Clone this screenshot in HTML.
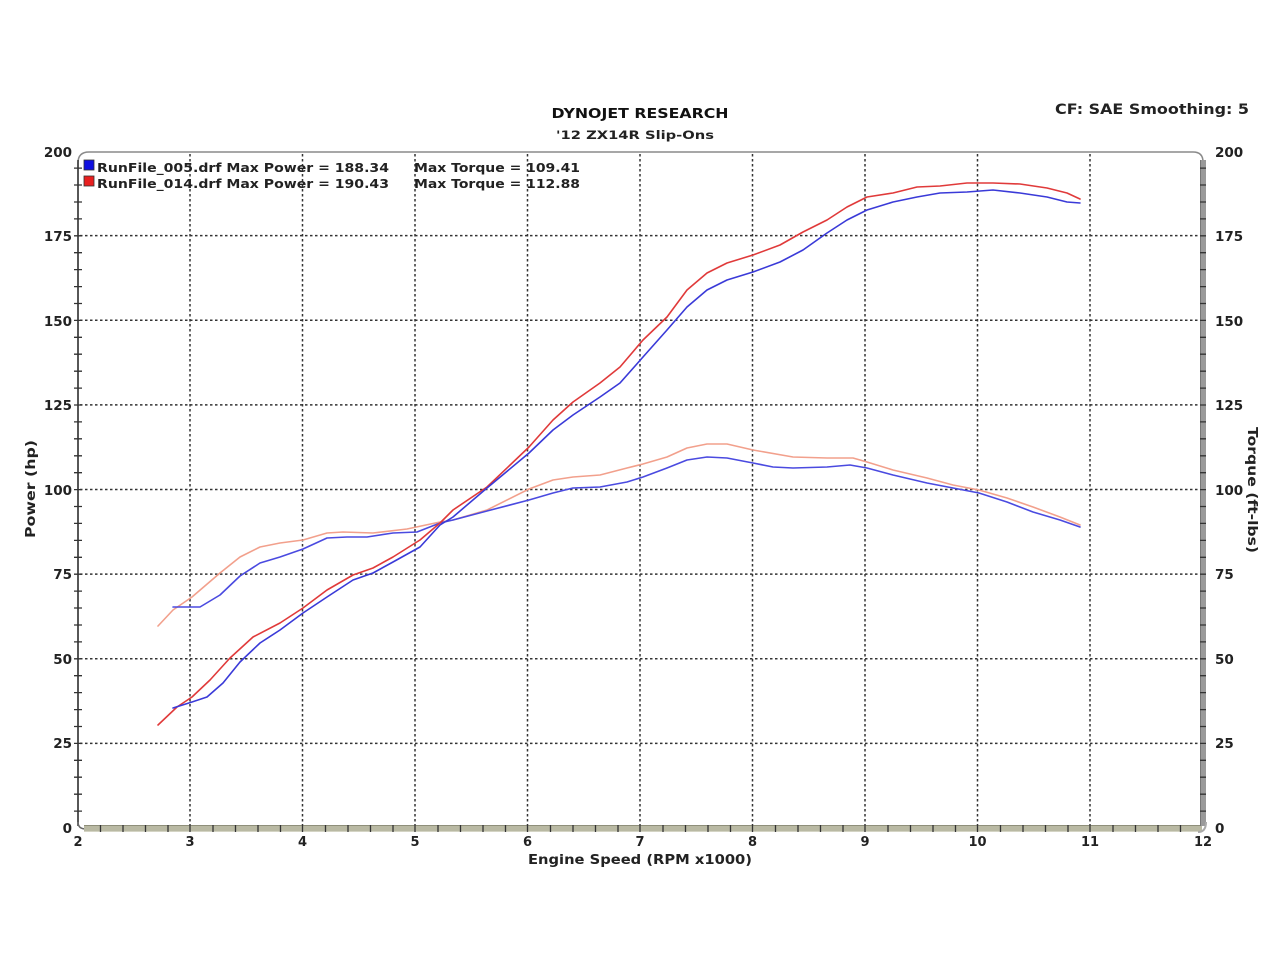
<!DOCTYPE html>
<html><head><meta charset="utf-8"><style>
html,body{margin:0;padding:0;background:#fff;}
svg{display:block;}
text{font-family:"DejaVu Sans","Liberation Sans",sans-serif;font-weight:bold;fill:#222;}
</style></head><body>
<svg width="1280" height="961" viewBox="0 0 1280 961" xmlns="http://www.w3.org/2000/svg">
<rect width="1280" height="961" fill="#fff"/>
<!-- titles -->
<text x="640" y="118" font-size="13" text-anchor="middle" textLength="177" lengthAdjust="spacingAndGlyphs" style="fill:#111">DYNOJET RESEARCH</text>
<text x="635" y="139" font-size="11.5" text-anchor="middle" textLength="158" lengthAdjust="spacingAndGlyphs">'12 ZX14R Slip-Ons</text>
<text x="1055" y="114" font-size="14" textLength="194" lengthAdjust="spacingAndGlyphs">CF: SAE  Smoothing: 5</text>

<!-- grid -->
<g stroke="#333" stroke-width="1.5" stroke-dasharray="2.5,2.5" fill="none">
<line x1="190" y1="154" x2="190" y2="825"/>
<line x1="302.5" y1="154" x2="302.5" y2="825"/>
<line x1="415" y1="154" x2="415" y2="825"/>
<line x1="527.5" y1="154" x2="527.5" y2="825"/>
<line x1="640" y1="154" x2="640" y2="825"/>
<line x1="752.5" y1="154" x2="752.5" y2="825"/>
<line x1="865" y1="154" x2="865" y2="825"/>
<line x1="977.5" y1="154" x2="977.5" y2="825"/>
<line x1="1090" y1="154" x2="1090" y2="825"/>
<line x1="80" y1="743.4" x2="1200" y2="743.4"/>
<line x1="80" y1="658.8" x2="1200" y2="658.8"/>
<line x1="80" y1="574.1" x2="1200" y2="574.1"/>
<line x1="80" y1="489.5" x2="1200" y2="489.5"/>
<line x1="80" y1="404.9" x2="1200" y2="404.9"/>
<line x1="80" y1="320.3" x2="1200" y2="320.3"/>
<line x1="80" y1="235.6" x2="1200" y2="235.6"/>
</g>

<!-- frame -->
<path d="M78 825 L78 163 Q78 152 89 152 L1193 152 Q1203 152 1203 162" fill="none" stroke="#8a8a8a" stroke-width="1.5"/>
<line x1="78" y1="160" x2="78" y2="826" stroke="#333" stroke-width="1.5"/>
<path d="M78 822 Q78 829 86 829" fill="none" stroke="#666" stroke-width="1.5"/>
<rect x="84" y="825" width="1118" height="7" fill="#b9b9a3"/>
<line x1="84" y1="825.5" x2="1202" y2="825.5" stroke="#8f8f7a" stroke-width="1"/>
<line x1="84" y1="831.5" x2="1202" y2="831.5" stroke="#d4d4c4" stroke-width="1"/>
<rect x="1200" y="160" width="6" height="666" fill="#9a9a9a"/>
<line x1="1200.5" y1="160" x2="1200.5" y2="826" stroke="#777" stroke-width="1"/>
<path d="M1206 822 Q1206 832 1198 832" fill="none" stroke="#aaa" stroke-width="2"/>

<!-- ticks -->
<g stroke="#333" stroke-width="1.3">
<path d="M74 811.1h8M74 794.2h8M74 777.2h8M74 760.3h8M74 743.4h8M74 726.5h8M74 709.6h8M74 692.6h8M74 675.7h8M74 658.8h8M74 641.9h8M74 625h8M74 608h8M74 591.1h8M74 574.2h8M74 557.3h8M74 540.4h8M74 523.4h8M74 506.5h8M74 489.6h8M74 472.7h8M74 455.8h8M74 438.8h8M74 421.9h8M74 405h8M74 388.1h8M74 371.2h8M74 354.2h8M74 337.3h8M74 320.4h8M74 303.5h8M74 286.6h8M74 269.6h8M74 252.7h8M74 235.8h8M74 218.9h8M74 202h8M74 185h8M74 168.1h8"/>
<path d="M1200 811.1h6M1200 794.2h6M1200 777.2h6M1200 760.3h6M1200 743.4h6M1200 726.5h6M1200 709.6h6M1200 692.6h6M1200 675.7h6M1200 658.8h6M1200 641.9h6M1200 625h6M1200 608h6M1200 591.1h6M1200 574.2h6M1200 557.3h6M1200 540.4h6M1200 523.4h6M1200 506.5h6M1200 489.6h6M1200 472.7h6M1200 455.8h6M1200 438.8h6M1200 421.9h6M1200 405h6M1200 388.1h6M1200 371.2h6M1200 354.2h6M1200 337.3h6M1200 320.4h6M1200 303.5h6M1200 286.6h6M1200 269.6h6M1200 252.7h6M1200 235.8h6M1200 218.9h6M1200 202h6M1200 185h6M1200 168.1h6"/>
<path d="M100.5 825v7M123 825v7M145.5 825v7M168 825v7M190 825v7M213 825v7M235.5 825v7M258 825v7M280.5 825v7M302.5 825v7M325.5 825v7M348 825v7M370.5 825v7M393 825v7M415 825v7M438 825v7M460.5 825v7M483 825v7M505.5 825v7M527.5 825v7M550.5 825v7M573 825v7M595.5 825v7M618 825v7M640 825v7M663 825v7M685.5 825v7M708 825v7M730.5 825v7M752.5 825v7M775.5 825v7M798 825v7M820.5 825v7M843 825v7M865 825v7M888 825v7M910.5 825v7M933 825v7M955.5 825v7M977.5 825v7M1000.5 825v7M1023 825v7M1045.5 825v7M1068 825v7M1090 825v7M1113 825v7M1135.5 825v7M1158 825v7M1180.5 825v7"/>
</g>

<!-- left labels -->
<g font-size="13.5" text-anchor="end">
<text x="72" y="157">200</text>
<text x="72" y="241">175</text>
<text x="72" y="326">150</text>
<text x="72" y="410">125</text>
<text x="72" y="495">100</text>
<text x="72" y="579">75</text>
<text x="72" y="664">50</text>
<text x="72" y="748">25</text>
<text x="72" y="833">0</text>
</g>
<!-- right labels -->
<g font-size="13.5">
<text x="1215" y="157">200</text>
<text x="1215" y="241">175</text>
<text x="1215" y="326">150</text>
<text x="1215" y="410">125</text>
<text x="1215" y="495">100</text>
<text x="1215" y="579">75</text>
<text x="1215" y="664">50</text>
<text x="1215" y="748">25</text>
<text x="1215" y="833">0</text>
</g>
<!-- x labels -->
<g font-size="13" text-anchor="middle">
<text x="78" y="846">2</text>
<text x="190" y="846">3</text>
<text x="302.5" y="846">4</text>
<text x="415" y="846">5</text>
<text x="527.5" y="846">6</text>
<text x="640" y="846">7</text>
<text x="752.5" y="846">8</text>
<text x="865" y="846">9</text>
<text x="977.5" y="846">10</text>
<text x="1090" y="846">11</text>
<text x="1203" y="846">12</text>
</g>
<text x="640" y="864" font-size="13.5" text-anchor="middle" textLength="224" lengthAdjust="spacingAndGlyphs">Engine Speed (RPM x1000)</text>
<text transform="translate(35,489) rotate(-90)" font-size="13" text-anchor="middle" textLength="98" lengthAdjust="spacingAndGlyphs">Power (hp)</text>
<text transform="translate(1248,490) rotate(90)" font-size="13" text-anchor="middle" textLength="126" lengthAdjust="spacingAndGlyphs">Torque (ft-lbs)</text>

<!-- legend -->
<rect x="84" y="160" width="10" height="10" fill="#1010e0" stroke="#333" stroke-width="0.8"/>
<rect x="84" y="176" width="10" height="10" fill="#e82020" stroke="#333" stroke-width="0.8"/>
<g font-size="12">
<text x="97" y="172" textLength="292" lengthAdjust="spacingAndGlyphs">RunFile_005.drf Max Power = 188.34</text>
<text x="414" y="172" textLength="166" lengthAdjust="spacingAndGlyphs">Max Torque = 109.41</text>
<text x="97" y="188" textLength="292" lengthAdjust="spacingAndGlyphs">RunFile_014.drf Max Power = 190.43</text>
<text x="414" y="188" textLength="166" lengthAdjust="spacingAndGlyphs">Max Torque = 112.88</text>
</g>

<!-- curves -->
<g fill="none" stroke-width="1.6" stroke-linejoin="round" stroke-linecap="round">
<polyline stroke="#f2a08c" points="158,626 173,610 192,597 220,573 240,557 260,547 280,543 303,540 327,533 343,532 373,533 407,529 440,522 453,520 487,510 529,489 553,480 573,477 600,475 627,468 643,464 667,457 687,448 707,444 727,444 753,450 793,457 827,458 853,458 867,462 893,470 927,478 953,485 979,490 1007,498 1033,507 1060,517 1080,525"/>
<polyline stroke="#4a4ae0" points="173,607 192,607 200,607 220,595 240,576 260,563 280,557 303,549 327,538 347,537 367,537 393,533 417,532 440,523 453,520 487,511 529,500 553,493 573,488 600,487 627,482 643,477 667,468 687,460 707,457 727,458 753,463 773,467 793,468 827,467 850,465 867,468 893,475 927,483 953,488 979,493 1007,502 1033,512 1060,520 1080,527"/>
<polyline stroke="#e03a3a" points="158,725 177,707 192,697 210,680 230,658 253,637 280,623 303,608 327,590 353,575 373,568 393,557 420,540 440,523 453,510 487,487 529,447 553,420 573,402 600,383 620,367 643,340 667,317 687,290 707,273 727,263 753,255 780,245 803,232 827,220 847,207 867,197 893,193 917,187 940,186 967,183 993,183 1020,184 1047,188 1067,193 1080,199"/>
<polyline stroke="#3a3ad8" points="173,708 192,702 207,697 223,683 240,662 260,643 280,630 303,613 327,597 353,580 373,573 393,562 420,547 440,525 453,517 487,488 529,453 553,430 573,415 600,397 620,383 643,357 667,330 687,307 707,290 727,280 753,272 780,262 803,250 827,233 847,220 867,210 893,202 917,197 940,193 967,192 993,190 1020,193 1047,197 1067,202 1080,203"/>
</g>
</svg>
</body></html>
